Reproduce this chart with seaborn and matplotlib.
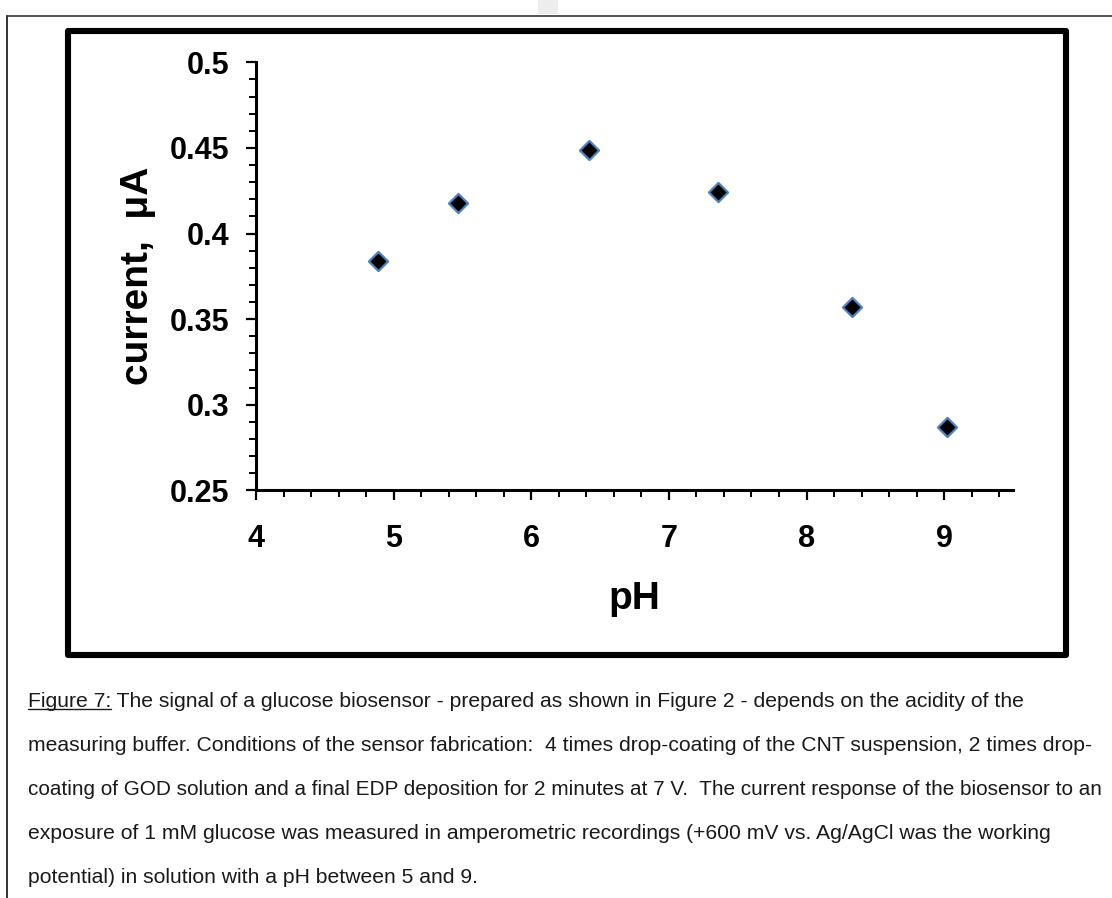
import matplotlib
matplotlib.use("Agg")
import matplotlib.pyplot as plt
from matplotlib.patches import Rectangle
from matplotlib.lines import Line2D
from matplotlib.ticker import MultipleLocator, FuncFormatter
import pandas as pd
import seaborn as sns

# values
ph = [4.89, 5.47, 6.42, 7.36, 8.33, 9.02]
current = [0.384, 0.418, 0.449, 0.424, 0.357, 0.287]
x_ticks = [4, 5, 6, 7, 8, 9]
y_ticks = [0.25, 0.3, 0.35, 0.4, 0.45, 0.5]

caption_head = "Figure 7:"
caption_lines = [
    " The signal of a glucose biosensor - prepared as shown in Figure 2 - depends on the acidity of the",
    "measuring buffer. Conditions of the sensor fabrication:  4 times drop-coating of the CNT suspension, 2 times drop-",
    "coating of GOD solution and a final EDP deposition for 2 minutes at 7 V.  The current response of the biosensor to an",
    "exposure of 1 mM glucose was measured in amperometric recordings (+600 mV vs. Ag/AgCl was the working",
    "potential) in solution with a pH between 5 and 9.",
]

df = pd.DataFrame({"pH": ph, "current": current})

sns.set_style("ticks")
plt.rcParams["font.family"] = ["Liberation Sans", "DejaVu Sans"]
plt.rcParams["text.color"] = "black"
plt.rcParams["axes.labelcolor"] = "black"
plt.rcParams["xtick.color"] = "black"
plt.rcParams["ytick.color"] = "black"

W, H = 1112, 898
fig = plt.figure(figsize=(W / 100, H / 100), dpi=100)
fx = lambda px: px / W
fy = lambda py: 1 - py / H

ax = fig.add_axes([fx(256), fy(490.3), fx(1013) - fx(256), fy(62.3) - fy(490.3)])

sns.scatterplot(data=df, x="pH", y="current", ax=ax, marker="D", s=95,
                color="black", edgecolor="#4F81BD", linewidth=1.6, zorder=3)

ax.set_xlim(4, 9.5)
ax.set_ylim(0.25, 0.5)
ax.set_xticks(x_ticks)
ax.set_yticks(y_ticks)
ax.xaxis.set_minor_locator(MultipleLocator(0.2))
ax.yaxis.set_minor_locator(MultipleLocator(0.01))
ax.yaxis.set_major_formatter(FuncFormatter(lambda v, p: f"{v:g}"))

sns.despine(ax=ax)
for s in ["left", "bottom"]:
    ax.spines[s].set_linewidth(2.2)
    ax.spines[s].set_color("black")

ax.tick_params(axis="both", which="major", direction="out", length=7, width=1.6,
               labelsize=22, color="black", labelcolor="black")
ax.tick_params(axis="both", which="minor", direction="out", length=5, width=1.4, color="black")
ax.tick_params(axis="x", which="major", pad=17)
ax.tick_params(axis="y", which="major", pad=12)
for lab in ax.get_xticklabels() + ax.get_yticklabels():
    lab.set_fontweight("bold")

ax.set_xlabel("pH", fontsize=28, fontweight="bold", labelpad=20, color="black")
ax.set_ylabel("current,  \u03bcA", fontsize=28, fontweight="bold", labelpad=10, color="black")

# thick frame around the chart
fig.add_artist(Rectangle((fx(68), fy(655)), fx(1066) - fx(68), fy(31) - fy(655),
                         transform=fig.transFigure, fill=False, edgecolor="black",
                         linewidth=4.4, joinstyle="round"))

# page border lines
fig.add_artist(Line2D([fx(7), 1], [fy(15.5), fy(15.5)], transform=fig.transFigure,
                      color="#333333", linewidth=1.2))
fig.add_artist(Line2D([fx(7), fx(7)], [fy(15.5), 0], transform=fig.transFigure,
                      color="#333333", linewidth=1.4))
fig.add_artist(Rectangle((fx(538), fy(14)), fx(558) - fx(538), fy(0) - fy(14),
                         transform=fig.transFigure, color="#ededed", linewidth=0))

# caption
cap_color = "#1a1a1a"
cap_sizes = [15.2, 15.2, 14.95, 15.2, 15.2]
baselines = [706.7, 751, 795, 839, 883]
head = fig.text(fx(28), fy(baselines[0]), caption_head, fontsize=cap_sizes[0],
                color=cap_color, va="baseline", ha="left")
fig.canvas.draw()
bb = head.get_window_extent()
fig.text(bb.x1 / W, fy(baselines[0]), caption_lines[0], fontsize=cap_sizes[0],
         color=cap_color, va="baseline", ha="left")
fig.add_artist(Line2D([bb.x0 / W, bb.x1 / W], [fy(baselines[0] + 2.5)] * 2,
                      transform=fig.transFigure, color=cap_color, linewidth=1.0))
for line, b, sz in zip(caption_lines[1:], baselines[1:], cap_sizes[1:]):
    fig.text(fx(28), fy(b), line, fontsize=sz, color=cap_color,
             va="baseline", ha="left")

fig.savefig("out.png", dpi=100)
